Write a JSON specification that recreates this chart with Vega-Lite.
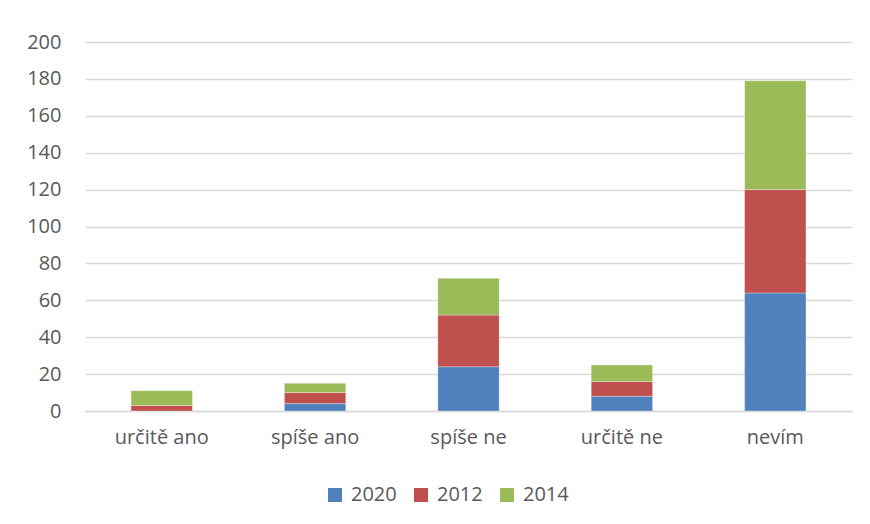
{
  "$schema": "https://vega.github.io/schema/vega-lite/v6.json",
  "width": 767,
  "height": 369,
  "autosize": {"type": "none"},
  "padding": {"left": 85, "top": 42, "right": 18, "bottom": 113},
  "background": "white",
  "data": {
    "values": [
      {"kategorie": "určitě ano", "rok": "2020", "pocet": 0},
      {"kategorie": "určitě ano", "rok": "2012", "pocet": 3},
      {"kategorie": "určitě ano", "rok": "2014", "pocet": 8},
      {"kategorie": "spíše ano", "rok": "2020", "pocet": 4},
      {"kategorie": "spíše ano", "rok": "2012", "pocet": 6},
      {"kategorie": "spíše ano", "rok": "2014", "pocet": 5},
      {"kategorie": "spíše ne", "rok": "2020", "pocet": 24},
      {"kategorie": "spíše ne", "rok": "2012", "pocet": 28},
      {"kategorie": "spíše ne", "rok": "2014", "pocet": 20},
      {"kategorie": "určitě ne", "rok": "2020", "pocet": 8},
      {"kategorie": "určitě ne", "rok": "2012", "pocet": 8},
      {"kategorie": "určitě ne", "rok": "2014", "pocet": 9},
      {"kategorie": "nevím", "rok": "2020", "pocet": 64},
      {"kategorie": "nevím", "rok": "2012", "pocet": 56},
      {"kategorie": "nevím", "rok": "2014", "pocet": 59}
    ]
  },
  "transform": [
    {"calculate": "indexof(['2020','2012','2014'], datum.rok)", "as": "poradi"}
  ],
  "mark": {"type": "bar", "stroke": "white", "strokeWidth": 0.5, "strokeOpacity": 0.6},
  "encoding": {
    "x": {
      "field": "kategorie",
      "type": "nominal",
      "sort": ["určitě ano", "spíše ano", "spíše ne", "určitě ne", "nevím"],
      "scale": {"paddingInner": 0.6, "paddingOuter": 0.3},
      "axis": {
        "title": null,
        "labelAngle": 0,
        "labelFontSize": 20,
        "labelFont": "Open Sans",
        "labelColor": "#595959",
        "labelPadding": 16,
        "ticks": false,
        "domainColor": "#d9d9d9",
        "domainWidth": 1.5
      }
    },
    "y": {
      "field": "pocet",
      "type": "quantitative",
      "scale": {"domain": [0, 200]},
      "axis": {
        "title": null,
        "values": [0, 20, 40, 60, 80, 100, 120, 140, 160, 180, 200],
        "labelFontSize": 20,
        "labelFont": "Open Sans",
        "labelColor": "#595959",
        "labelPadding": 24,
        "ticks": false,
        "domain": false,
        "gridColor": "#d9d9d9",
        "gridWidth": 1.5
      }
    },
    "color": {
      "field": "rok",
      "type": "nominal",
      "sort": ["2020", "2012", "2014"],
      "scale": {"domain": ["2020", "2012", "2014"], "range": ["#4F81BD", "#C0504D", "#9BBB59"]},
      "legend": {
        "title": null,
        "orient": "none",
        "legendX": 240,
        "legendY": 443,
        "direction": "horizontal",
        "symbolType": "square",
        "symbolSize": 196,
        "symbolStrokeWidth": 0,
        "labelFontSize": 20,
        "labelFont": "Open Sans",
        "labelColor": "#595959",
        "labelOffset": 6,
        "columnPadding": 14
      }
    },
    "order": {"field": "poradi", "type": "quantitative", "sort": "ascending"}
  },
  "config": {"view": {"stroke": null}}
}
